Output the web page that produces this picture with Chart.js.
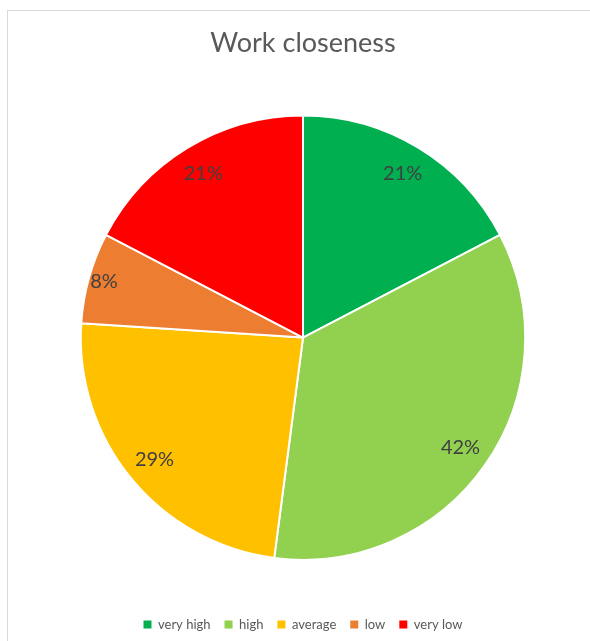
<!DOCTYPE html>
<html>
<head>
<meta charset="utf-8">
<script src="https://cdn.jsdelivr.net/npm/chart.js@4/dist/chart.umd.min.js"></script>
<style>
  html, body { margin: 0; padding: 0; background: #ffffff; }
  #frame {
    position: absolute; left: 7px; top: 10px; width: 620px; height: 660px;
    border: 1px solid #d9d9d9; box-sizing: border-box;
  }
  #wrap { position: absolute; left: 0; top: 0; width: 590px; height: 641px; }
</style>
</head>
<body>
<div id="frame"></div>
<div id="wrap"><canvas id="c" width="590" height="641"></canvas></div>
<script>
const categories = ['very high', 'high', 'average', 'low', 'very low'];
const shares = [21, 42, 29, 8, 21];
const sliceColors = ['#00B050', '#92D050', '#FFC000', '#ED7D31', '#FF0000'];
const chartTitle = 'Work closeness';
const FONT = 'Lato, "Open Sans", sans-serif';

// Percentage labels placed inside each slice
const sliceLabels = {
  id: 'sliceLabels',
  afterDatasetsDraw(chart) {
    const ctx = chart.ctx;
    const meta = chart.getDatasetMeta(0);
    const values = chart.data.datasets[0].data;
    ctx.save();
    ctx.font = '20px ' + FONT;
    ctx.fillStyle = '#404040';
    ctx.textAlign = 'center';
    ctx.textBaseline = 'middle';
    meta.data.forEach((arc, i) => {
      const p = arc.getProps(['x', 'y', 'startAngle', 'endAngle', 'outerRadius'], true);
      const mid = (p.startAngle + p.endAngle) / 2;
      const r = p.outerRadius * (values[i] < 10 ? 0.93 : 0.865);
      ctx.fillText(values[i] + '%', p.x + Math.cos(mid) * r, p.y + Math.sin(mid) * r);
    });
    ctx.restore();
  }
};

new Chart(document.getElementById('c'), {
  type: 'pie',
  data: {
    labels: categories,
    datasets: [{
      data: shares,
      backgroundColor: sliceColors,
      borderColor: '#ffffff',
      borderWidth: 2
    }]
  },
  options: {
    responsive: false,
    animation: false,
    layout: { padding: { left: 16, right: 0, top: 0, bottom: 0 } },
    plugins: {
      title: {
        display: true,
        text: chartTitle,
        color: '#595959',
        font: { family: FONT, size: 27, weight: 'normal' },
        padding: { top: 27, bottom: 55 }
      },
      legend: {
        position: 'bottom',
        title: {
          display: true,
          text: '',
          font: { size: 1 },
          padding: { top: 42, bottom: 0 }
        },
        labels: {
          color: '#595959',
          font: { family: FONT, size: 13 },
          boxWidth: 8,
          boxHeight: 8,
          padding: 14,
          generateLabels(chart) {
            return Chart.overrides.pie.plugins.legend.labels.generateLabels(chart)
              .map(l => Object.assign(l, { lineWidth: 0, strokeStyle: 'rgba(0,0,0,0)' }));
          }
        }
      },
      tooltip: { enabled: false }
    }
  },
  plugins: [sliceLabels]
});
</script>
</body>
</html>
